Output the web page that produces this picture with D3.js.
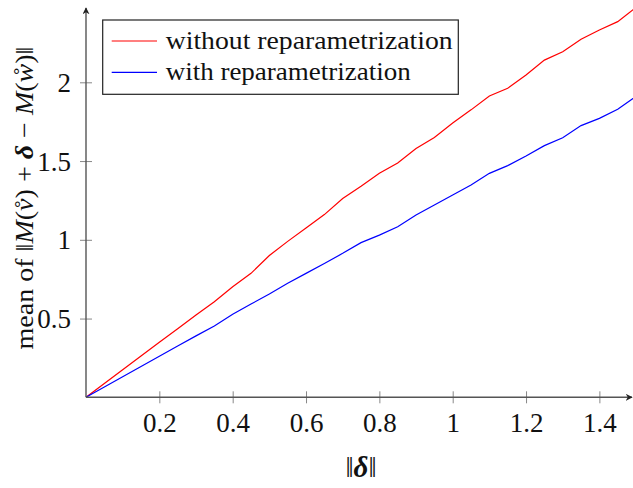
<!DOCTYPE html>
<html>
<head>
<meta charset="utf-8">
<script src="https://cdn.jsdelivr.net/npm/d3@7"></script>
<style>
  body { margin: 0; background: #fff; }
  svg { display: block; font-family: "Liberation Serif", serif; }
</style>
</head>
<body>
<div id="chart"></div>
<script>
const xValues = [0, 0.05, 0.1, 0.15, 0.2, 0.25, 0.3, 0.35, 0.4, 0.45, 0.5, 0.55, 0.6, 0.65, 0.7, 0.75,
                 0.8, 0.85, 0.9, 0.95, 1.0, 1.05, 1.1, 1.15, 1.2, 1.25, 1.3, 1.35, 1.4, 1.45, 1.5];
const withoutRep = [0, 0.087, 0.175, 0.262, 0.349, 0.435, 0.522, 0.607, 0.702, 0.787, 0.9, 0.99, 1.075, 1.16,
                    1.262, 1.34, 1.422, 1.488, 1.58, 1.65, 1.742, 1.825, 1.913, 1.962, 2.046, 2.141, 2.194,
                    2.273, 2.332, 2.385, 2.475];
const withRep = [0, 0.066, 0.131, 0.196, 0.261, 0.326, 0.39, 0.453, 0.527, 0.592, 0.656, 0.724, 0.787, 0.85,
                 0.914, 0.982, 1.03, 1.083, 1.157, 1.221, 1.284, 1.348, 1.422, 1.471, 1.532, 1.598, 1.648,
                 1.725, 1.771, 1.829, 1.91];
const xTicks = [0.2, 0.4, 0.6, 0.8, 1, 1.2, 1.4];
const yTicks = [0.5, 1, 1.5, 2];
const seriesNames = ['without reparametrization', 'with reparametrization'];

const width = 633, height = 488;
const x0 = 86, y0 = 397.3;

const svg = d3.select('#chart').append('svg')
    .attr('width', width)
    .attr('height', height);

const xScale = d3.scaleLinear().domain([0, 1.5]).range([x0, x0 + 1.5 * 366.7]);
const yScale = d3.scaleLinear().domain([0, 2]).range([y0, y0 - 2 * 157.5]);

const defs = svg.append('defs');
defs.append('marker')
    .attr('id', 'arrow')
    .attr('viewBox', '0 0 10 10')
    .attr('refX', 9).attr('refY', 5)
    .attr('markerWidth', 7).attr('markerHeight', 7)
    .attr('markerUnits', 'userSpaceOnUse')
    .attr('orient', 'auto')
    .append('path')
    .attr('d', 'M0,0 L10,5 L0,10 L3,5 Z')
    .attr('fill', '#222');

// lines
const line = d3.line()
    .x((d, i) => xScale(xValues[i]))
    .y(d => yScale(d));

[[withoutRep, '#ff0000'], [withRep, '#0000ff']].forEach(([vals, col]) => {
    svg.append('path')
        .datum(vals)
        .attr('fill', 'none')
        .attr('stroke', col)
        .attr('stroke-width', 1.2)
        .attr('d', line);
});

// axes (middle style with arrows)
const xAxis = d3.axisBottom(xScale).tickValues(xTicks).tickSize(0).tickFormat(d3.format('~g'));
const gx = svg.append('g').attr('transform', `translate(0,${y0})`).call(xAxis);
gx.select('.domain').remove();
gx.selectAll('.tick text')
    .attr('y', 35).attr('dy', 0)
    .attr('font-size', 27).attr('font-family', '"Liberation Serif", serif').attr('fill', '#111');
gx.selectAll('.tick').append('line')
    .attr('y1', -6).attr('y2', 6)
    .attr('stroke', '#888').attr('stroke-width', 1);

const yAxis = d3.axisLeft(yScale).tickValues(yTicks).tickSize(0).tickFormat(d3.format('~g'));
const gy = svg.append('g').attr('transform', `translate(${x0},0)`).call(yAxis);
gy.select('.domain').remove();
gy.selectAll('.tick text')
    .attr('x', -15).attr('dy', '0.34em')
    .attr('font-size', 27).attr('font-family', '"Liberation Serif", serif').attr('fill', '#111');
gy.selectAll('.tick').append('line')
    .attr('x1', -6).attr('x2', 6)
    .attr('stroke', '#888').attr('stroke-width', 1);

svg.append('line')
    .attr('x1', x0).attr('y1', y0).attr('x2', 632).attr('y2', y0)
    .attr('stroke', '#555').attr('stroke-width', 1.4)
    .attr('marker-end', 'url(#arrow)');
svg.append('line')
    .attr('x1', x0).attr('y1', y0).attr('x2', x0).attr('y2', 8)
    .attr('stroke', '#555').attr('stroke-width', 1.4)
    .attr('marker-end', 'url(#arrow)');

// axis labels
const xl = svg.append('text')
    .attr('x', 361).attr('y', 477)
    .attr('text-anchor', 'middle')
    .attr('font-size', 29).attr('fill', '#111');
xl.append('tspan').text('‖');
xl.append('tspan').attr('font-style', 'italic').attr('font-weight', 'bold').text('δ');
xl.append('tspan').text('‖');

const yl = svg.append('text')
    .attr('transform', 'translate(33,198) rotate(-90)')
    .attr('text-anchor', 'middle')
    .attr('font-size', 26).attr('fill', '#111')
    .attr('textLength', 303)
    .attr('lengthAdjust', 'spacingAndGlyphs');
yl.append('tspan').text('mean of ‖');
yl.append('tspan').attr('font-style', 'italic').text('M');
yl.append('tspan').text('(');
yl.append('tspan').attr('font-style', 'italic').text('v\u030A');
yl.append('tspan').text(') + ');
yl.append('tspan').attr('font-style', 'italic').attr('font-weight', 'bold').text('δ');
yl.append('tspan').text(' − ');
yl.append('tspan').attr('font-style', 'italic').text('M');
yl.append('tspan').text('(');
yl.append('tspan').attr('font-style', 'italic').text('\u1E98');
yl.append('tspan').text(')‖');

// legend
const legend = svg.append('g');
legend.append('rect')
    .attr('x', 102.7).attr('y', 20)
    .attr('width', 355.6).attr('height', 74.3)
    .attr('fill', '#fff').attr('stroke', '#222').attr('stroke-width', 1.2);
const legendCols = ['#ff0000', '#0000ff'];
const legendTextWidths = [287, 245];
seriesNames.forEach((name, i) => {
    const cy = 41 + i * 31.3;
    legend.append('line')
        .attr('x1', 111.7).attr('x2', 157)
        .attr('y1', cy).attr('y2', cy)
        .attr('stroke', legendCols[i]).attr('stroke-width', 1.2);
    legend.append('text')
        .attr('x', 165.7).attr('y', cy + 8)
        .attr('font-size', 26).attr('fill', '#111')
        .attr('textLength', legendTextWidths[i])
        .attr('lengthAdjust', 'spacingAndGlyphs')
        .text(name);
});
</script>
</body>
</html>
